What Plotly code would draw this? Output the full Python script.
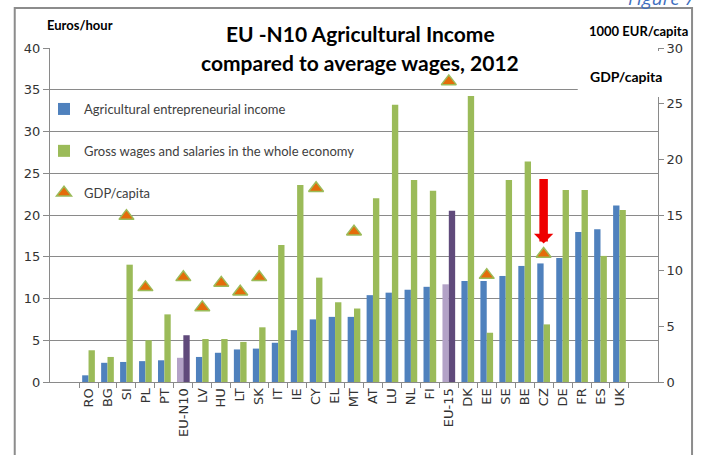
import plotly.graph_objects as go

categories = ["RO", "BG", "SI", "PL", "PT", "EU-N10", "LV", "HU", "LT", "SK", "IT", "IE", "CY", "EL",
              "MT", "AT", "LU", "NL", "FI", "EU-15", "DK", "EE", "SE", "BE", "CZ", "DE", "FR", "ES", "UK"]
agri_income = [0.8, 2.3, 2.4, 2.5, 2.6, 2.9, 3.0, 3.5, 3.9, 4.0, 4.7, 6.2, 7.5, 7.8,
               7.8, 10.4, 10.7, 11.05, 11.4, 11.7, 12.1, 12.1, 12.7, 13.9, 14.2, 14.85, 17.95, 18.3, 21.15]
gross_wages = [3.8, 3.0, 14.05, 5.0, 8.1, 5.6, 5.15, 5.15, 4.8, 6.55, 16.4, 23.6, 12.5, 9.55,
               8.8, 22.0, 33.2, 24.2, 22.9, 20.5, 34.25, 5.9, 24.2, 26.4, 6.9, 23.0, 23.0, 15.1, 20.6]
gdp_capita = [None, None, 14.9, 8.5, None, 9.4, 6.7, 8.9, 8.1, 9.4, None, None, 17.4, None,
              13.5, None, None, None, None, 27.0, None, 9.6, None, None, 11.5, None, None, None, None]
left_ticks = [0, 5, 10, 15, 20, 25, 30, 35, 40]
right_ticks = [0, 5, 10, 15, 20, 25, 30]

aggregates = ["EU-N10", "EU-15"]
arrow_category = "CZ"
arrow_from = 24.5
arrow_to = 16.6

BLUE = "#4F81BD"
GREEN = "#9BBB59"
LPURPLE = "#B3A2C7"
DPURPLE = "#604A7B"
ORANGE = "#E46C0A"
GRID = "#8A8A8A"
TXT = "#333333"

agri_colors = [LPURPLE if c in aggregates else BLUE for c in categories]
wage_colors = [DPURPLE if c in aggregates else GREEN for c in categories]

fig = go.Figure()
fig.add_trace(go.Bar(x=categories, y=agri_income, name="Agricultural entrepreneurial income",
                     marker=dict(color=agri_colors, line=dict(width=0)), legendgroup="a"))
fig.add_trace(go.Bar(x=categories, y=gross_wages, name="Gross wages and salaries in the whole economy",
                     marker=dict(color=wage_colors, line=dict(width=0)), legendgroup="b"))
fig.add_trace(go.Scatter(x=categories, y=gdp_capita, name="GDP/capita", mode="markers", yaxis="y2",
                         marker=dict(symbol="triangle-up", size=13, color=ORANGE,
                                     line=dict(color=GREEN, width=1.5)), legendgroup="c"))

fig.update_layout(
    width=701, height=455,
    margin=dict(l=50, r=43, t=48, b=73, autoexpand=False),
    paper_bgcolor="white", plot_bgcolor="white",
    barmode="group", bargap=0.33, bargroupgap=0,
    font=dict(family="DejaVu Sans", size=12, color=TXT),
    showlegend=True,
    legend=dict(xref="container", yref="container", x=44 / 701, y=1 - 94 / 455,
                xanchor="left", yanchor="top", bgcolor="rgba(0,0,0,0)",
                font=dict(family="Lato", size=13, color="#404040"), tracegroupgap=22,
                itemwidth=30),
    xaxis=dict(type="category", categoryorder="array", categoryarray=categories, automargin=False,
               tickangle=-90, tickson="boundaries", ticks="outside", ticklen=5, tickcolor=GRID,
               showline=True, linecolor=GRID, linewidth=1, showgrid=False,
               tickfont=dict(family="DejaVu Sans", size=13, color=TXT)),
    yaxis=dict(range=[0, 40], tickvals=left_ticks, showgrid=True, gridcolor=GRID, gridwidth=1,
               showline=True, linecolor=GRID, linewidth=1, ticks="outside", ticklen=6, tickcolor=GRID,
               zeroline=False, automargin=False,
               tickfont=dict(family="DejaVu Sans", size=13, color=TXT)),
    yaxis2=dict(range=[0, 30], tickvals=right_ticks, overlaying="y", side="right", showgrid=False,
                showline=True, linecolor=GRID, linewidth=1, ticks="outside", ticklen=5, tickcolor=GRID,
                zeroline=False, automargin=False,
                tickfont=dict(family="DejaVu Sans", size=13, color=TXT)),
)

# white box behind "GDP/capita" label (covers grid + axis line as in original)
fig.add_shape(type="rect", xref="paper", yref="paper", x0=0.868, x1=1.012, y0=0.853, y1=0.991,
              fillcolor="white", line=dict(width=0), layer="above")
# outer chart border
fig.add_shape(type="rect", xref="paper", yref="paper", x0=-0.058, x1=1.056, y0=-0.3, y1=1.12,
              line=dict(color="#8C8C8C", width=2), fillcolor="rgba(0,0,0,0)", layer="above")

# red arrow pointing at CZ (dark outline underneath, red on top)
fig.add_annotation(x=arrow_category, y=arrow_to, ax=arrow_category, ay=arrow_from,
                   xref="x", yref="y", axref="x", ayref="y", text="", showarrow=True,
                   arrowhead=1, arrowsize=0.38, arrowwidth=8.5, arrowcolor="#EE0000", standoff=0)

fig.add_annotation(text="<b>EU -N10 Agricultural Income</b>", xref="paper", yref="paper",
                   x=0.51, y=(382 - 33) / 334, xanchor="center", yanchor="middle", showarrow=False,
                   font=dict(family="Lato", size=21, color="black"))
fig.add_annotation(text="<b>compared to average wages, 2012</b>", xref="paper", yref="paper",
                   x=0.51, y=(382 - 62) / 334, xanchor="center", yanchor="middle", showarrow=False,
                   font=dict(family="Lato", size=21, color="black"))
fig.add_annotation(text="<b>Euros/hour</b>", xref="paper", yref="paper",
                   x=-0.008, y=(382 - 25) / 334, xanchor="left", yanchor="middle", showarrow=False,
                   font=dict(family="Lato", size=13, color="black"))
fig.add_annotation(text="<b>1000 EUR/capita</b>", xref="paper", yref="paper",
                   x=(690 - 50) / 608, y=(382 - 31) / 334, xanchor="right", yanchor="middle",
                   showarrow=False, font=dict(family="Lato", size=13, color="black"))
fig.add_annotation(text="<b>GDP/capita</b>", xref="paper", yref="paper",
                   x=(664 - 50) / 608, y=(382 - 77) / 334, xanchor="right", yanchor="middle",
                   showarrow=False, font=dict(family="Lato", size=14, color="black"))
fig.add_annotation(text="<i>Figure 7</i>", xref="paper", yref="paper",
                   x=(698 - 50) / 608, y=(382 - 13) / 334, xanchor="right", yanchor="bottom",
                   showarrow=False, font=dict(family="Open Sans", size=19, color="#3F6FC0"))

fig.write_html("out.html", config={"displayModeBar": False},
               post_script="document.body.style.margin='0px';")
